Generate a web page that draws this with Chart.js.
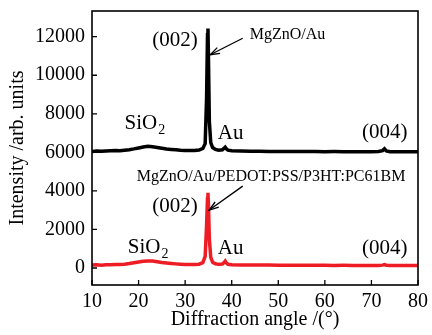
<!DOCTYPE html>
<html><head><meta charset="utf-8">
<script src="https://cdn.jsdelivr.net/npm/chart.js@4"></script>
<style>html,body{margin:0;padding:0;background:#fff}#wrap{width:432px;height:335px}</style>
</head><body><div id="wrap"><canvas id="c" width="432" height="335"></canvas></div>
<script>
const xTicks = [10,20,30,40,50,60,70,80];
const yTicks = [0,2000,4000,6000,8000,10000,12000];
const angle = [10,11,12,13,14,15,16,17,18,19,20,21,22,23,24,25,26,27,28,29,30,31,32,33,
  33.8,34.3,34.6,34.8,34.9,35.0,35.2,35.5,35.9,36.5,37.2,38.0,38.4,38.6,38.8,39.2,
  40,42,44,46,48,50,52,54,56,58,60,62,64,66,68,70,71.5,72.4,72.8,73.2,74,76,78,80];
const intensityMgZnOAu = [6050,6070,6055,6075,6080,6090,6085,6110,6140,6180,6230,6280,6310,6290,6250,6210,6170,6150,6130,6110,6100,6095,6100,6120,
  6200,6450,8800,12100,12420,11000,7600,6500,6250,6150,6110,6130,6220,6270,6200,6110,
  6080,6070,6060,6060,6050,6050,6045,6040,6045,6040,6035,6040,6035,6030,6035,6030,6040,6090,6180,6070,6035,6030,6030,6030];
const intensityHybrid = [160,165,150,170,175,180,185,200,230,270,310,350,370,360,330,290,260,235,215,200,185,180,185,200,
  280,600,2200,3600,3900,3300,1500,550,300,220,190,200,300,360,280,190,
  170,160,155,150,150,145,145,140,145,140,140,135,140,135,135,135,135,150,180,145,135,130,130,130];

const notes = [
  {t:'(002)', x:32.7, y:11813, align:'right', size:21},
  {t:'MgZnO/Au', x:43.86, y:12073, align:'left', size:16},
  {t:'SiO', sub:'2', x:17.0, y:7513, align:'left', size:21},
  {t:'Au', x:39.78, y:6995, align:'center', size:21},
  {t:'(004)', x:72.85, y:7047, align:'center', size:21},
  {t:'MgZnO/Au/PEDOT:PSS/P3HT:PC61BM', x:19.6, y:4715, align:'left', size:16},
  {t:'(002)', x:32.7, y:3212, align:'right', size:21},
  {t:'SiO', sub:'2', x:17.67, y:1088, align:'left', size:21},
  {t:'Au', x:39.78, y:1036, align:'center', size:21},
  {t:'(004)', x:72.85, y:1036, align:'center', size:21}
];
const arrows = [
  {x1:42.36, y1:11917, x2:35.38, y2:11062},
  {x1:42.36, y1:4249, x2:35.17, y2:3005}
];
const FONT = "Liberation Serif";
Chart.defaults.font.family = FONT;
Chart.defaults.font.size = 20;
Chart.defaults.color = '#000';

const decor = {
  id:'decor',
  afterDraw(chart){
    const {ctx, chartArea:a, scales:{x:xs, y:ys}} = chart;
    ctx.save();
    ctx.strokeStyle = '#000'; ctx.lineWidth = 1.6;
    ctx.strokeRect(a.left, a.top, a.right - a.left, a.bottom - a.top);
    ctx.lineWidth = 1.3;
    ctx.beginPath();
    xTicks.forEach(v => { const p = xs.getPixelForValue(v); ctx.moveTo(p, a.bottom); ctx.lineTo(p, a.bottom - 5); });
    yTicks.forEach(v => { const p = ys.getPixelForValue(v); ctx.moveTo(a.left, p); ctx.lineTo(a.left + 5, p); });
    ctx.stroke();
    ctx.fillStyle = '#000';
    ctx.textBaseline = 'middle';
    notes.forEach(n => {
      const px = xs.getPixelForValue(n.x), py = ys.getPixelForValue(n.y);
      ctx.font = n.size + 'px "' + FONT + '"';
      ctx.textAlign = n.align;
      ctx.fillText(n.t, px, py);
      if (n.sub) {
        const w = ctx.measureText(n.t).width;
        ctx.font = Math.round(n.size*0.68) + 'px "' + FONT + '"';
        ctx.textAlign = 'left';
        ctx.fillText(n.sub, px + w + 1, py + 7);
      }
    });
    ctx.strokeStyle = '#000'; ctx.lineWidth = 1.3;
    arrows.forEach(r => {
      const x1 = xs.getPixelForValue(r.x1), y1 = ys.getPixelForValue(r.y1);
      const x2 = xs.getPixelForValue(r.x2), y2 = ys.getPixelForValue(r.y2);
      ctx.beginPath(); ctx.moveTo(x1, y1); ctx.lineTo(x2, y2); ctx.stroke();
      const ang = Math.atan2(y2 - y1, x2 - x1), L = 10, s = 0.32;
      ctx.beginPath();
      ctx.moveTo(x2 - L*Math.cos(ang - s), y2 - L*Math.sin(ang - s));
      ctx.lineTo(x2, y2);
      ctx.lineTo(x2 - L*Math.cos(ang + s), y2 - L*Math.sin(ang + s));
      ctx.stroke();
    });
    ctx.restore();
  }
};

new Chart(document.getElementById('c'), {
  type: 'line',
  data: {
    datasets: [
      {label:'MgZnO/Au', data: angle.map((v,i)=>({x:v, y:intensityMgZnOAu[i]})), borderColor:'#000', borderWidth:3.5, pointRadius:0, tension:0},
      {label:'MgZnO/Au/PEDOT:PSS/P3HT:PC61BM', data: angle.map((v,i)=>({x:v, y:intensityHybrid[i]})), borderColor:'rgb(238,28,36)', borderWidth:3.5, pointRadius:0, tension:0}
    ]
  },
  options: {
    responsive:false, animation:false, devicePixelRatio:1,
    layout:{padding:{left:0, right:14, top:11, bottom:0}},
    plugins:{legend:{display:false}, tooltip:{enabled:false}},
    scales:{
      x:{type:'linear', min:10, max:80,
        afterBuildTicks: s => { s.ticks = xTicks.map(v=>({value:v})); },
        afterFit: s => { s.height = 50; s.paddingLeft = 0; s.paddingRight = 0; },
        grid:{display:false, drawTicks:false}, border:{display:false},
        ticks:{color:'#000', font:{family:FONT, size:20}, padding:5, maxRotation:0, autoSkip:false, callback: v => String(v)},
        title:{display:true, text:'Diffraction angle /(°)', color:'#000', font:{family:FONT, size:20}, padding:{top:0,bottom:3}}
      },
      y:{type:'linear', min:-881, max:13332,
        afterBuildTicks: s => { s.ticks = yTicks.map(v=>({value:v})); },
        afterFit: s => { s.width = 92; s.paddingTop = 0; s.paddingBottom = 0; },
        grid:{display:false, drawTicks:false}, border:{display:false},
        ticks:{color:'#000', font:{family:FONT, size:20}, padding:7, autoSkip:false, callback: v => String(v)},
        title:{display:true, text:'Intensity /arb. units', color:'#000', font:{family:FONT, size:20}, padding:{top:6,bottom:0}}
      }
    }
  },
  plugins:[decor]
});
</script></body></html>
